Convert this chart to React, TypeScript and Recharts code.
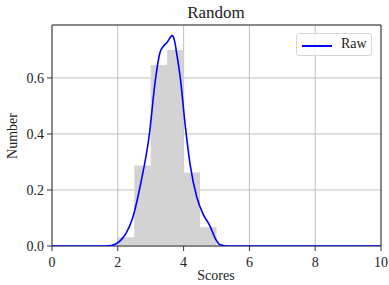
import {
  ComposedChart,
  Area,
  Line,
  XAxis,
  YAxis,
  CartesianGrid,
  ReferenceArea,
} from "recharts";

// histogram bins (left edge, density); last entry closes the final step
const binEdges = [2, 2.5, 3, 3.5, 4, 4.5, 5];
const binHeights = [0.031, 0.287, 0.646, 0.7, 0.262, 0.067, 0];

// density curve
const kdeX = [
  0, 1.5, 1.8, 1.95, 2.1, 2.25, 2.45, 2.7, 2.95, 3.15, 3.28, 3.4, 3.5, 3.6,
  3.65, 3.72, 3.8, 3.9, 4.05, 4.2, 4.4, 4.6, 4.8, 4.95, 5.1, 5.3, 10,
];
const kdeY = [
  0, 0, 0.002, 0.008, 0.022, 0.045, 0.1, 0.225, 0.39, 0.6, 0.69, 0.715, 0.727,
  0.745, 0.751, 0.735, 0.68, 0.6, 0.43, 0.29, 0.175, 0.112, 0.072, 0.03, 0.005,
  0, 0,
];

const xTicks = [0, 2, 4, 6, 8, 10];
const yTicks = [0, 0.2, 0.4, 0.6];
const yTop = 0.789;

const histData = binEdges.map((x, i) => ({ x, h: binHeights[i] }));
const kdeData = kdeX.map((x, i) => ({ x, y: kdeY[i] }));

const font = "'Liberation Serif', 'Times New Roman', serif";

export default function App() {
  return (
    <div
      style={{
        position: "absolute",
        left: 0,
        top: 0,
        width: 389,
        height: 285,
        background: "#fff",
        fontFamily: font,
        color: "#222",
      }}
    >
      <ComposedChart
        width={389}
        height={285}
        margin={{ top: 25, right: 8, bottom: 9, left: 12 }}
      >
        <CartesianGrid stroke="#b0b0b0" strokeWidth={0.8} />
        <XAxis
          type="number"
          dataKey="x"
          domain={[0, 10]}
          ticks={xTicks}
          height={30}
          axisLine={false}
          tickLine={{ stroke: "#333" }}
          tickSize={5}
          tickMargin={6}
          tick={{ fontSize: 14, fill: "#222", fontFamily: font }}
          allowDuplicatedCategory={false}
        />
        <YAxis
          type="number"
          domain={[0, yTop]}
          ticks={yTicks}
          width={40}
          axisLine={false}
          tickLine={{ stroke: "#333" }}
          tickSize={5}
          tickMargin={3}
          tickFormatter={(v: number) => v.toFixed(1)}
          tick={{ fontSize: 14, fill: "#222", fontFamily: font }}
          allowDataOverflow
        />
        <Area
          data={histData}
          dataKey="h"
          type="stepAfter"
          fill="#d3d3d3"
          fillOpacity={1}
          stroke="none"
          isAnimationActive={false}
        />
        <ReferenceArea
          x1={0}
          x2={10}
          y1={0}
          y2={yTop}
          fill="none"
          stroke="#333"
          strokeWidth={1}
          ifOverflow="visible"
        />
        <Line
          data={kdeData}
          dataKey="y"
          type="monotone"
          stroke="#0000ff"
          strokeWidth={1.6}
          dot={false}
          isAnimationActive={false}
        />
      </ComposedChart>
      <div
        style={{
          position: "absolute",
          left: 0,
          width: 432,
          top: 3,
          textAlign: "center",
          fontSize: 17,
        }}
      >
        Random
      </div>
      <div
        style={{
          position: "absolute",
          left: 116,
          width: 200,
          top: 268,
          textAlign: "center",
          fontSize: 14,
        }}
      >
        Scores
      </div>
      <div
        style={{
          position: "absolute",
          left: 13,
          top: 136,
          fontSize: 14,
          transform: "translate(-50%, -50%) rotate(-90deg)",
          whiteSpace: "nowrap",
        }}
      >
        Number
      </div>
      <div
        style={{
          position: "absolute",
          left: 296,
          top: 33,
          width: 76,
          height: 23,
          border: "1px solid #d6d6d6",
          borderRadius: 3,
          background: "rgba(255,255,255,0.8)",
          boxSizing: "border-box",
        }}
      >
        <div
          style={{
            position: "absolute",
            left: 5,
            top: 11,
            width: 30,
            height: 1.6,
            background: "#0000ff",
          }}
        />
        <div
          style={{
            position: "absolute",
            left: 44,
            top: 2,
            fontSize: 14,
          }}
        >
          Raw
        </div>
      </div>
    </div>
  );
}
